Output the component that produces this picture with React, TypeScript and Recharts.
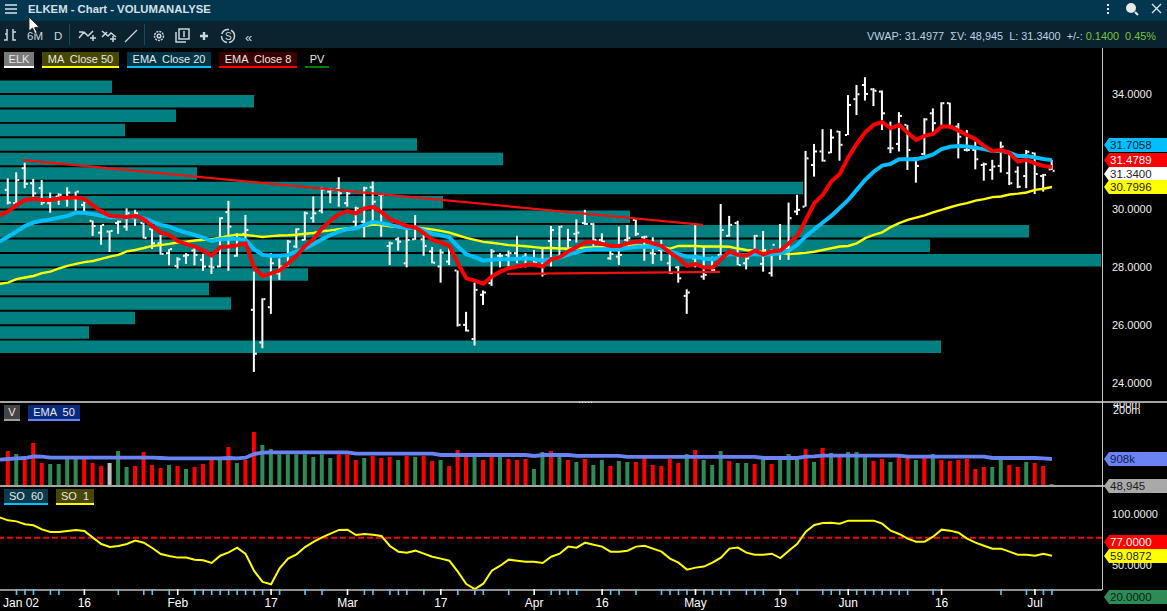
import { Bar, BarChart, Cell, ComposedChart, Line, ReferenceLine, XAxis, YAxis } from "recharts";

const FONT = '"Liberation Sans", Arial, sans-serif';

// daily bars, index 0 is the first bar of the window
const highs = [
  31.08, 31.29, 31.62, 31.06, 31.02, 30.59, 30.56, 30.77, 30.62, 30.27,
  29.62, 29.47, 29.27, 29.62, 30.04, 29.99, 29.53, 29.32, 29.12, 28.63,
  28.35, 28.49, 28.74, 28.47, 28.37, 29.73, 30.3, 29.18, 29.81, 27.85,
  26.93, 28.49, 28.31, 28.95, 29.35, 29.93, 30.45, 30.77, 30.74, 31.12,
  30.62, 30.1, 30.79, 30.97, 30.51, 28.89, 29.04, 29.29, 29.81, 29.12,
  28.7, 28.63, 28.7, 27.89, 26.46, 27.47, 27.2, 28.63, 28.49, 28.58,
  29.09, 28.49, 28.6, 28.66, 29.43, 29.43, 29.33, 29.66, 29.99, 29.53,
  29.18, 28.7, 29.41, 29.47, 29.66, 29.09, 29.04, 28.95, 28.51, 28.05,
  27.24, 29.47, 28.7, 28.37, 30.19, 29.78, 29.61, 28.37, 29.12, 29.26,
  28.63, 29.5, 30.24, 30.51, 32.03, 32.27, 32.78, 32.78, 32.72, 33.96,
  34.31, 34.58, 34.2, 34.12, 33.04, 33.37, 32.93, 31.81, 33.16, 33.5,
  33.71, 33.7, 32.99, 32.75, 32.35, 31.62, 31.72, 32.35, 31.95, 31.49,
  32.06, 31.97, 31.23, 31.72,
];
const lows = [
  30.18, 30.22, 30.74, 30.39, 30.16, 29.89, 30.16, 30.1, 29.96, 29.93,
  29.09, 28.78, 28.53, 29.16, 29.27, 29.43, 29.0, 28.64, 28.44, 28.07,
  27.96, 28.12, 28.07, 27.88, 27.77, 28.0, 27.88, 28.37, 28.95, 24.38,
  25.2, 26.39, 27.57, 28.03, 28.66, 28.93, 29.55, 29.87, 30.22, 30.1,
  30.1, 29.41, 29.04, 29.53, 29.06, 28.08, 28.58, 28.0, 28.95, 28.4,
  28.14, 27.47, 28.08, 25.95, 25.78, 25.29, 26.7, 27.36, 28.0, 28.03,
  28.14, 28.0, 28.12, 27.68, 28.03, 28.31, 28.49, 28.86, 29.47, 28.74,
  28.58, 28.26, 28.08, 28.7, 29.09, 28.23, 28.12, 28.23, 27.77, 27.47,
  26.39, 28.0, 27.57, 27.85, 28.37, 29.06, 28.08, 27.93, 28.43, 27.85,
  27.68, 28.26, 28.26, 29.81, 30.1, 31.14, 31.66, 31.95, 31.69, 32.58,
  33.27, 33.77, 33.58, 32.75, 31.95, 32.01, 31.37, 30.93, 31.89, 32.64,
  32.81, 32.81, 31.77, 32.01, 31.39, 31.0, 31.03, 31.28, 30.85, 30.74,
  30.74, 30.54, 30.62, 31.37,
];
const opens = [
  30.68, 30.22, 31.43, 30.91, 30.74, 30.22, 30.45, 30.36, 30.39, 30.16,
  29.61, 29.2, 29.24, 29.53, 29.41, 29.81, 29.53, 29.32, 28.83, 28.49,
  28.05, 28.4, 28.58, 28.26, 28.03, 28.03, 29.91, 28.4, 29.16, 26.53,
  25.4, 26.62, 27.79, 28.08, 28.72, 28.95, 29.7, 29.96, 30.62, 30.7,
  30.22, 29.58, 29.58, 30.77, 30.51, 28.74, 28.97, 28.14, 28.97, 28.97,
  28.55, 28.03, 28.2, 27.89, 26.01, 25.52, 27.05, 27.45, 28.4, 28.43,
  28.49, 28.37, 28.31, 28.03, 28.91, 28.37, 28.63, 29.16, 29.53, 29.5,
  28.95, 28.31, 28.37, 28.95, 29.64, 29.04, 28.49, 28.6, 28.14, 28.0,
  27.01, 28.31, 27.68, 27.97, 28.43, 29.09, 29.53, 28.14, 28.6, 28.12,
  27.8, 28.49, 28.66, 29.93, 30.1, 31.54, 32.01, 31.97, 32.7, 32.58,
  33.82, 34.31, 34.16, 34.08, 32.12, 32.27, 32.93, 31.77, 31.92, 33.33,
  32.81, 33.68, 32.87, 32.06, 32.06, 31.54, 31.37, 31.51, 31.26, 31.31,
  31.16, 31.95, 31.16, 31.39,
];
const closes = [
  30.24, 31.02, 30.89, 30.56, 30.24, 30.36, 30.51, 30.59, 30.62, 30.27,
  29.43, 29.47, 29.26, 29.58, 29.87, 29.87, 29.02, 28.83, 28.46, 28.63,
  28.28, 28.42, 28.43, 28.03, 28.0, 29.7, 29.41, 29.01, 29.29, 25.01,
  26.9, 28.14, 28.03, 28.89, 29.32, 29.87, 29.87, 30.7, 30.68, 30.56,
  30.56, 30.04, 30.74, 30.27, 30.51, 28.83, 28.89, 28.95, 29.35, 28.74,
  28.16, 28.51, 28.6, 26.01, 25.81, 27.22, 27.13, 28.55, 28.4, 28.49,
  28.31, 28.31, 28.16, 27.77, 29.29, 29.41, 28.95, 29.2, 29.5, 28.95,
  28.89, 28.46, 28.43, 29.01, 29.16, 29.06, 28.46, 28.7, 27.8, 27.62,
  27.13, 28.08, 27.74, 27.91, 29.29, 29.47, 28.08, 28.31, 29.09, 28.6,
  28.78, 28.66, 29.7, 29.99, 31.77, 32.01, 31.69, 32.49, 32.24, 33.62,
  33.99, 34.0, 34.11, 33.33, 32.12, 33.24, 32.06, 31.51, 33.12, 32.99,
  33.68, 32.87, 32.52, 32.06, 31.74, 31.57, 31.49, 32.18, 30.91, 30.79,
  32.0, 31.23, 31.2, 31.34,
];

// indicators start one bar earlier, at index -1 on the left edge
const ema8 = [
  29.81, 29.93, 30.16, 30.33, 30.37, 30.33, 30.33, 30.38, 30.41, 30.42,
  30.37, 30.14, 29.93, 29.78, 29.76, 29.74, 29.78, 29.66, 29.43, 29.2,
  29.12, 28.91, 28.8, 28.72, 28.58, 28.41, 28.7, 28.72, 28.76, 28.83,
  27.99, 27.7, 27.79, 27.89, 28.14, 28.4, 28.74, 28.98, 29.35, 29.62,
  29.84, 29.95, 29.87, 30.04, 30.09, 29.91, 29.66, 29.55, 29.43, 29.38,
  29.18, 28.95, 28.86, 28.74, 28.14, 27.62, 27.54, 27.43, 27.68, 27.85,
  27.97, 28.03, 28.08, 28.1, 28.03, 28.28, 28.35, 28.55, 28.7, 28.87,
  28.87, 28.81, 28.74, 28.74, 28.83, 28.89, 28.93, 28.83, 28.74, 28.51,
  28.31, 28.05, 28.11, 27.99, 27.99, 28.28, 28.55, 28.43, 28.4, 28.58,
  28.45, 28.55, 28.58, 28.83, 29.09, 29.64, 30.22, 30.51, 30.97, 31.23,
  31.81, 32.27, 32.67, 32.93, 33.03, 32.81, 32.93, 32.66, 32.41, 32.55,
  32.62, 32.87, 32.87, 32.73, 32.58, 32.43, 32.2, 32.03, 32.06, 31.95,
  31.66, 31.72, 31.6, 31.51, 31.47,
];
const ema20 = [
  28.89, 29.06, 29.24, 29.43, 29.55, 29.61, 29.66, 29.72, 29.78, 29.89,
  29.89, 29.84, 29.78, 29.73, 29.73, 29.73, 29.73, 29.7, 29.58, 29.47,
  29.41, 29.29, 29.2, 29.12, 29.03, 28.91, 28.97, 28.99, 28.99, 28.95,
  28.63, 28.43, 28.4, 28.4, 28.43, 28.55, 28.66, 28.81, 28.97, 29.12,
  29.24, 29.32, 29.35, 29.47, 29.57, 29.53, 29.47, 29.41, 29.35, 29.38,
  29.27, 29.16, 29.11, 29.04, 28.72, 28.45, 28.35, 28.23, 28.26, 28.28,
  28.28, 28.3, 28.31, 28.29, 28.23, 28.29, 28.34, 28.44, 28.52, 28.6,
  28.63, 28.63, 28.63, 28.63, 28.67, 28.7, 28.72, 28.7, 28.66, 28.55,
  28.46, 28.37, 28.37, 28.3, 28.28, 28.35, 28.46, 28.44, 28.42, 28.46,
  28.43, 28.46, 28.49, 28.58, 28.78, 29.07, 29.32, 29.55, 29.78, 30.05,
  30.33, 30.68, 31.03, 31.31, 31.52, 31.58, 31.74, 31.74, 31.74, 31.81,
  31.91, 32.09, 32.17, 32.2, 32.18, 32.14, 32.09, 32.03, 32.03, 31.97,
  31.85, 31.85, 31.8, 31.75, 31.71,
];
const ma50 = [
  27.43, 27.47, 27.59, 27.65, 27.7, 27.8, 27.85, 27.96, 28.05, 28.12,
  28.18, 28.22, 28.29, 28.37, 28.43, 28.55, 28.6, 28.67, 28.74, 28.77,
  28.81, 28.86, 28.89, 28.93, 28.95, 28.97, 29.03, 29.09, 29.13, 29.12,
  29.09, 29.05, 29.08, 29.1, 29.11, 29.13, 29.16, 29.19, 29.25, 29.28,
  29.32, 29.35, 29.38, 29.43, 29.48, 29.46, 29.42, 29.39, 29.39, 29.38,
  29.35, 29.31, 29.26, 29.2, 29.11, 29.02, 28.95, 28.88, 28.85, 28.81,
  28.77, 28.75, 28.73, 28.7, 28.67, 28.67, 28.65, 28.65, 28.66, 28.68,
  28.7, 28.71, 28.73, 28.74, 28.75, 28.76, 28.76, 28.74, 28.71, 28.65,
  28.74, 28.74, 28.74, 28.72, 28.72, 28.72, 28.71, 28.65, 28.6, 28.57,
  28.53, 28.52, 28.51, 28.46, 28.48, 28.5, 28.54, 28.6, 28.66, 28.72,
  28.74, 28.83, 29.01, 29.12, 29.21, 29.39, 29.53, 29.64, 29.72, 29.8,
  29.9, 29.99, 30.08, 30.16, 30.22, 30.31, 30.36, 30.43, 30.45, 30.52,
  30.55, 30.59, 30.68, 30.72, 30.78,
];

// volume in thousands, first bar at index 0
const volumes = [
  1990, 1420, 726, 4900, 518, 462, 462, 874, 874, 874,
  518, 369, 518, 1990, 330, 369, 1780, 413, 295, 413,
  369, 263, 330, 462, 726, 726, 3130, 518, 726, 16900,
  3910, 2490, 1370, 1370, 1370, 1370, 1020, 1370, 908, 1370,
  1370, 726, 908, 1140, 908, 1020, 726, 1140, 1020, 1140,
  648, 726, 369, 2230, 1140, 1140, 726, 1020, 1140, 812,
  726, 812, 263, 1780, 1990, 1140, 726, 579, 812, 413,
  726, 369, 648, 579, 579, 908, 413, 369, 812, 518,
  1420, 2230, 726, 413, 1990, 648, 518, 518, 462, 726,
  462, 726, 1420, 726, 2490, 579, 2790, 1590, 1020, 1780,
  1780, 1020, 648, 812, 579, 1020, 908, 726, 1020, 1420,
  726, 648, 726, 812, 263, 330, 330, 726, 413, 330,
  579, 518, 369, 48.945,
];
const volumeSides = (
  "rgrrrggggr" + "rrxggrrrrg" + "rgrrrgrgrr" + "gggggggggr" + "rrgrrrgrgr" +
  "rgrrrgrrgr" + "rrggrgrgrg" + "grggrrrrrr" + "grgggrggrg" + "rgggrgrgrg" +
  "ggrrgrrgrg" + "rrrrrrggrr" + "grrg"
).split("");
const volumeEma = [
  753, 812, 874, 908, 1095, 1055, 943, 943, 943, 943,
  943, 943, 943, 943, 943, 943, 943, 943, 943, 908,
  874, 874, 874, 874, 874, 874, 874, 908, 874, 943,
  1420, 1654, 1716, 1716, 1716, 1716, 1716, 1716, 1716, 1716,
  1716, 1716, 1478, 1478, 1478, 1478, 1478, 1478, 1478, 1478,
  1478, 1478, 1272, 1272, 1272, 1272, 1272, 1272, 1272, 1272,
  1272, 1272, 1272, 1140, 1272, 1272, 1272, 1272, 1140, 1140,
  1140, 1140, 1140, 1140, 1020, 1020, 1020, 1020, 1020, 1020,
  1020, 1020, 1020, 1020, 1020, 1020, 1020, 1020, 1020, 1020,
  908, 908, 908, 908, 908, 1055, 1095, 1180, 1180, 1180,
  1180, 1180, 1180, 1180, 1180, 1180, 1180, 1055, 1055, 1055,
  1055, 1055, 1055, 1055, 1055, 1055, 1055, 908, 908, 908,
  908, 908, 908, 874, 812,
];
const stochastic = [
  97.2, 94.2, 93.2, 90.3, 89.3, 85.3, 82.7, 82.7, 83.7, 84.7,
  83.7, 77.1, 70.8, 67.8, 68.8, 70.8, 74.1, 72.1, 66.8, 60.9,
  58.9, 57.3, 57.3, 55.3, 54.6, 52.0, 59.2, 62.5, 67.2, 60.9,
  44.1, 33.2, 30.9, 46.7, 56.3, 60.6, 67.8, 72.8, 77.4, 81.0,
  84.7, 85.0, 79.7, 80.7, 80.0, 78.7, 68.8, 63.2, 62.2, 64.2,
  61.2, 58.2, 56.3, 54.3, 43.4, 31.2, 26.2, 31.5, 44.4, 49.3,
  55.3, 54.3, 53.3, 53.3, 52.0, 58.2, 61.2, 68.2, 67.2, 72.1,
  70.1, 68.2, 63.2, 63.2, 64.2, 68.2, 69.1, 66.2, 63.2, 56.3,
  52.3, 45.4, 47.4, 48.4, 52.3, 57.3, 66.2, 67.2, 62.2, 60.2,
  60.2, 61.2, 56.9, 64.2, 70.9, 83.0, 89.6, 91.6, 91.9, 90.9,
  93.9, 93.9, 93.9, 93.9, 90.9, 84.0, 80.7, 76.1, 73.1, 73.1,
  78.0, 85.0, 84.0, 82.0, 76.1, 72.1, 69.1, 66.2, 66.2, 63.2,
  60.2, 60.2, 59.2, 61.2, 59.09,
];

// volume-by-price profile, 0.5 wide bins
const profilePrices = [
  34.25, 33.75, 33.25, 32.75, 32.25, 31.75, 31.25, 30.75, 30.25, 29.75,
  29.25, 28.75, 28.25, 27.75, 27.25, 26.75, 26.25, 25.75, 25.25,
];
const profileVolumes = [
  112, 254, 176, 125, 417, 503, 197, 803, 443, 630,
  1029, 930, 1101, 308, 209, 231, 135, 89, 941,
];

const priceTicks = [34, 30, 28, 26, 24];
const volumeTicks = [400000, 200000];
const soTicks = [100, 50];

const barTicks = [
  1, 2, 3, 5, 6, 9, 13, 16, 17, 19, 20, 22, 23, 24, 25, 26, 27, 28, 29, 30,
  31, 32, 35, 37, 40, 42, 43, 45, 46, 47, 49, 51, 53, 55, 56, 59, 62, 64, 65, 66,
  67, 70, 71, 72, 74, 77, 78, 79, 80, 81, 82, 83, 84, 85, 87, 88, 89, 91, 93, 96,
  97, 98, 99, 100, 101, 102, 103, 104, 105, 106, 109, 110, 117, 120, 121, 122, 123,
];
const tickLabelBars = [1, 9, 20, 31, 40, 51, 62, 70, 81, 91, 99, 110, 121];
const tickLabelTexts = ["Jan 02", "16", "Feb", "17", "Mar", "17", "Apr", "16", "May", "19", "Jun", "16", "Jul"];
const whiteTickBars = [9, 20, 31, 40, 51, 62, 70, 81, 91, 99, 110, 121];

const rows = ema8.map((_, n) => {
  const b = n - 1;
  return {
    i: b,
    high: highs[b],
    low: lows[b],
    open: opens[b],
    close: closes[b],
    range: b >= 0 ? [lows[b], highs[b]] : undefined,
    ema8: ema8[n],
    ema20: ema20[n],
    ma50: ma50[n],
    volume: volumes[b],
    volumeEma: volumeEma[n],
    so: stochastic[n],
  };
});
const profileRows = profilePrices.map((price, n) => ({ price, volume: profileVolumes[n] }));

const W = 1167;
const PLOT_RIGHT = 65;
const X_DOMAIN: [number, number] = [-0.942, 128.9];
const PRICE_DOMAIN: [number, number] = [23.34, 35.59];
const VOLUME_DOMAIN: [number, number] = [39, 491000];
const SO_DOMAIN: [number, number] = [25.25, 128.2];
const MARGIN = { top: 0, right: 0, bottom: 0, left: 0 };
const AXIS_TICK = { fill: "#f0f0f0", fontSize: 11, fontFamily: FONT };

const sideColor: Record<string, string> = { r: "#ff0000", g: "#2e8b57", x: "#c0c0c0" };

function OhlcBar(props: any) {
  const { x, y, width, height, payload } = props;
  if (!payload || payload.high == null || !height) return null;
  const unit = height / (payload.high - payload.low);
  const cx = x + width / 2 - 1;
  const openY = y + (payload.high - payload.open) * unit;
  const closeY = y + (payload.high - payload.close) * unit;
  return (
    <g fill="#ffffff">
      <rect x={cx} y={y} width={2} height={height} />
      <rect x={cx - 2} y={openY - 1} width={2} height={2} />
      <rect x={cx + 2} y={closeY - 1} width={2} height={2} />
    </g>
  );
}

function TimeTick(props: any) {
  const { x, y, payload } = props;
  const bar = payload.value;
  const labelAt = tickLabelBars.indexOf(bar);
  const white = whiteTickBars.includes(bar);
  return (
    <g>
      <line x1={x} x2={x} y1={y - 1} y2={y + 5} stroke={white ? "#ffffff" : "#62c4f5"} strokeWidth={1.6} />
      {labelAt >= 0 && (
        <text
          x={bar === 1 ? 3 : x}
          y={y + 17}
          fill="#ffffff"
          fontSize={12}
          fontFamily={FONT}
          textAnchor={bar === 1 ? "start" : "middle"}
        >
          {tickLabelTexts[labelAt]}
        </text>
      )}
    </g>
  );
}

function Tag({ top, text, bg, color }: { top: number; text: string; bg: string; color: string }) {
  return (
    <div
      style={{
        position: "absolute",
        left: 1104,
        top,
        width: 63,
        height: 14,
        background: bg,
        color,
        font: `11.5px ${FONT}`,
        lineHeight: "14px",
        paddingLeft: 6,
        boxSizing: "border-box",
        clipPath: "polygon(0 50%, 5px 0, 100% 0, 100% 100%, 5px 100%)",
      }}
    >
      {text}
    </div>
  );
}

function Legend({ left, top, width, text, bg, line }: { left: number; top: number; width: number; text: string; bg: string; line: string }) {
  return (
    <div
      style={{
        position: "absolute",
        left,
        top,
        width,
        height: 16,
        boxSizing: "border-box",
        background: bg,
        borderBottom: `2px solid ${line}`,
        color: "#e8e8e8",
        font: `11px ${FONT}`,
        lineHeight: "14px",
        textAlign: "center",
        whiteSpace: "pre",
      }}
    >
      {text}
    </div>
  );
}

function ToolIcons() {
  const s = { fill: "none", stroke: "#c9d6de", strokeWidth: 1.5 };
  return (
    <svg width={270} height={27} style={{ position: "absolute", left: 0, top: 21 }}>
      <path d="M4 19h3V8M7 13h-2M13 8v11h3M13 11h3" {...s} />
      <path d="M79 17l5-6 4 4 5-5M79 11l4 0M90 17h6M93 14v6" {...s} />
      <path d="M102 10l6 5 3-3 5 4M102 16l5-5M110 18h6M113 15v6" {...s} />
      <path d="M125 21l12-12" {...s} strokeWidth={1.2} />
      <circle cx={159} cy={15} r={4.5} {...s} strokeDasharray="2 1" />
      <circle cx={159} cy={15} r={1.8} {...s} />
      <path d="M176 11v10h10M179 8h10v10h-10zM184 10v6" {...s} />
      <path d="M204 11v8M200 15h8" {...s} strokeWidth={2.4} />
      <circle cx={228} cy={15} r={6.5} {...s} strokeDasharray="9 2" />
      <text x={225} y={19} fill="#c9d6de" fontSize={10} fontFamily={FONT}>S</text>
      <text x={245} y={21} fill="#c9d6de" fontSize={13} fontFamily={FONT}>«</text>
    </svg>
  );
}

export default function App() {
  return (
    <div style={{ position: "absolute", left: 0, top: 0, width: W, height: 611, background: "#000", overflow: "hidden", fontFamily: FONT }}>
      <style>{"body{margin:0;background:#000}"}</style>

      {/* window chrome */}
      <div style={{ position: "absolute", left: 0, top: 0, width: W, height: 21, background: "#03374f" }} />
      <div style={{ position: "absolute", left: 0, top: 21, width: W, height: 27, background: "#0b222f" }} />
      <svg width={W} height={21} style={{ position: "absolute", left: 0, top: 0 }}>
        <path d="M5 5h12M5 9h12M5 13h12" stroke="#d8e4ea" strokeWidth={1.6} />
        <path d="M1108 4v2M1108 8v2M1108 12v2" stroke="#e8e8e8" strokeWidth={2} />
        <circle cx={1131} cy={8} r={5} fill="#e8e8e8" />
        <path d="M1135 12l3 3" stroke="#e8e8e8" strokeWidth={2} />
        <path d="M1152 4l9 9M1161 4l-9 9" stroke="#d8e4ea" strokeWidth={1.4} />
      </svg>
      <div style={{ position: "absolute", left: 28, top: 1, color: "#d3e1e8", font: `bold 11.3px ${FONT}`, lineHeight: "16px" }}>
        ELKEM - Chart - VOLUMANALYSE
      </div>
      <ToolIcons />
      <div style={{ position: "absolute", left: 27, top: 30, color: "#c9d6de", font: `11.5px ${FONT}` }}>6M</div>
      <div style={{ position: "absolute", left: 54, top: 30, color: "#c9d6de", font: `11.5px ${FONT}` }}>D</div>
      <div style={{ position: "absolute", left: 69, top: 24, width: 1, height: 21, background: "#164a63" }} />
      <div style={{ position: "absolute", left: 144, top: 24, width: 1, height: 21, background: "#164a63" }} />
      <div style={{ position: "absolute", right: 11, top: 30, color: "#bcd3e2", font: `10.9px ${FONT}`, whiteSpace: "pre" }}>
        {"VWAP: 31.4977  \u03A3V: 48,945  L: 31.3400  +/-: "}
        <span style={{ color: "#76c442" }}>{"0.1400  0.45%"}</span>
      </div>

      {/* volume by price sits behind the price bars */}
      <div style={{ position: "absolute", left: 0, top: 48 }}>
        <BarChart width={W} height={354} data={profileRows} layout="vertical" margin={{ ...MARGIN, right: PLOT_RIGHT }}>
          <XAxis type="number" domain={[0, 1102]} hide />
          <YAxis type="number" dataKey="price" domain={PRICE_DOMAIN} allowDataOverflow hide reversed />
          <Bar dataKey="volume" fill="#008080" barSize={12.5} isAnimationActive={false} />
        </BarChart>
      </div>

      <div style={{ position: "absolute", left: 0, top: 48 }}>
        <ComposedChart width={W} height={354} data={rows} margin={MARGIN}>
          <XAxis type="number" dataKey="i" domain={X_DOMAIN} allowDataOverflow hide />
          <YAxis
            orientation="right"
            width={PLOT_RIGHT}
            domain={PRICE_DOMAIN}
            allowDataOverflow
            ticks={priceTicks}
            interval={0}
            axisLine={false}
            tickLine={false}
            tickSize={0}
            tickMargin={10}
            tick={AXIS_TICK}
            tickFormatter={(v: number) => v.toFixed(4)}
          />
          <Bar dataKey="range" barSize={2} shape={OhlcBar} isAnimationActive={false} />
          <Line dataKey="ma50" stroke="#ffff00" strokeWidth={2.4} dot={false} isAnimationActive={false} />
          <Line dataKey="ema20" stroke="#00bfff" strokeWidth={4} dot={false} isAnimationActive={false} />
          <Line dataKey="ema8" stroke="#ff0000" strokeWidth={4} dot={false} isAnimationActive={false} />
          <ReferenceLine segment={[{ x: 1.8, y: 31.71 }, { x: 81.9, y: 29.47 }]} stroke="#f01010" strokeWidth={2.2} />
          <ReferenceLine segment={[{ x: 58.8, y: 27.77 }, { x: 83.9, y: 27.84 }]} stroke="#f01010" strokeWidth={2.2} />
        </ComposedChart>
      </div>

      <div style={{ position: "absolute", left: 0, top: 402 }}>
        <ComposedChart width={W} height={84} data={rows} margin={MARGIN}>
          <XAxis type="number" dataKey="i" domain={X_DOMAIN} allowDataOverflow hide />
          <YAxis
            orientation="right"
            width={PLOT_RIGHT}
            scale="log"
            domain={VOLUME_DOMAIN}
            allowDataOverflow
            ticks={volumeTicks}
            interval={0}
            axisLine={false}
            tickLine={false}
            tickSize={0}
            tickMargin={11}
            tick={AXIS_TICK}
            tickFormatter={(v: number) => `${v / 1000}m`}
          />
          <Bar dataKey="volume" barSize={4} isAnimationActive={false}>
            {rows.map((r) => (
              <Cell key={r.i} fill={sideColor[volumeSides[r.i]] ?? "#000"} />
            ))}
          </Bar>
          <Line dataKey="volumeEma" stroke="#6a83f2" strokeWidth={3.8} dot={false} isAnimationActive={false} />
        </ComposedChart>
      </div>

      <div style={{ position: "absolute", left: 0, top: 486 }}>
        <ComposedChart width={W} height={125} data={rows} margin={MARGIN}>
          <XAxis
            type="number"
            dataKey="i"
            domain={X_DOMAIN}
            allowDataOverflow
            ticks={barTicks}
            interval={0}
            height={21}
            axisLine={{ stroke: "#c0c0c0", strokeWidth: 1.4 }}
            tickLine={false}
            tickSize={0}
            tickMargin={0}
            tick={TimeTick}
          />
          <YAxis
            orientation="right"
            width={PLOT_RIGHT}
            domain={SO_DOMAIN}
            allowDataOverflow
            ticks={soTicks}
            interval={0}
            axisLine={false}
            tickLine={false}
            tickSize={0}
            tickMargin={10}
            tick={AXIS_TICK}
            tickFormatter={(v: number) => v.toFixed(4)}
          />
          <ReferenceLine y={77} stroke="#ff0000" strokeWidth={2} strokeDasharray="6 3" />
          <Line dataKey="so" stroke="#ffff00" strokeWidth={2} dot={false} isAnimationActive={false} />
        </ComposedChart>
      </div>

      {/* pane separators */}
      <div style={{ position: "absolute", left: 0, top: 401, width: W, height: 2, background: "#a6a6a6" }} />
      <div style={{ position: "absolute", left: 0, top: 485, width: W, height: 2, background: "#a6a6a6" }} />
      <div style={{ position: "absolute", left: 1102, top: 48, width: 1, height: 542, background: "#c4c4c4" }} />
      <svg width={16} height={3} style={{ position: "absolute", left: 578, top: 401 }}>
        <path d="M1 1.5h14" stroke="#e8e8e8" strokeWidth={1} strokeDasharray="1 2" />
      </svg>

      <Legend left={4} top={52} width={30} text="ELK" bg="#7a7a7a" line="#ffffff" />
      <Legend left={42} top={52} width={77} text="MA  Close 50" bg="#474700" line="#ffff00" />
      <Legend left={127} top={52} width={84} text="EMA  Close 20" bg="#003447" line="#00bfff" />
      <Legend left={219} top={52} width={78} text="EMA  Close 8" bg="#3a0000" line="#ff0000" />
      <Legend left={305} top={52} width={24} text="PV" bg="transparent" line="#008000" />
      <Legend left={4} top={405} width={16} text="V" bg="#444444" line="#a0a0a0" />
      <Legend left={28} top={405} width={52} text="EMA  50" bg="#0a2a80" line="#6a83f2" />
      <Legend left={4} top={489} width={44} text="SO  60" bg="#0b3a4c" line="#00bfff" />
      <Legend left={56} top={489} width={38} text="SO  1" bg="#474700" line="#ffff00" />

      <Tag top={138} text="31.7058" bg="#00bfff" color="#06222e" />
      <Tag top={153} text="31.4789" bg="#ff0000" color="#ffffff" />
      <Tag top={167} text="31.3400" bg="#ffffff" color="#222222" />
      <Tag top={180} text="30.7996" bg="#ffff00" color="#222222" />
      <Tag top={452} text="908k" bg="#6a83f2" color="#10204a" />
      <Tag top={479} text="48,945" bg="#a9a9a9" color="#1c1c1c" />
      <Tag top={535} text="77.0000" bg="#ff0000" color="#ffffff" />
      <Tag top={549} text="59.0872" bg="#ffff00" color="#222222" />
      <Tag top={590} text="20.0000" bg="#2e8b57" color="#0a1f14" />

      {/* mouse pointer from the screenshot */}
      <svg width={14} height={20} style={{ position: "absolute", left: 28, top: 16 }}>
        <path d="M1 1v14l3.5-3 2.5 5.5 2-1-2.5-5 4.5-.5z" fill="#ffffff" stroke="#222" strokeWidth={0.8} />
      </svg>
    </div>
  );
}
